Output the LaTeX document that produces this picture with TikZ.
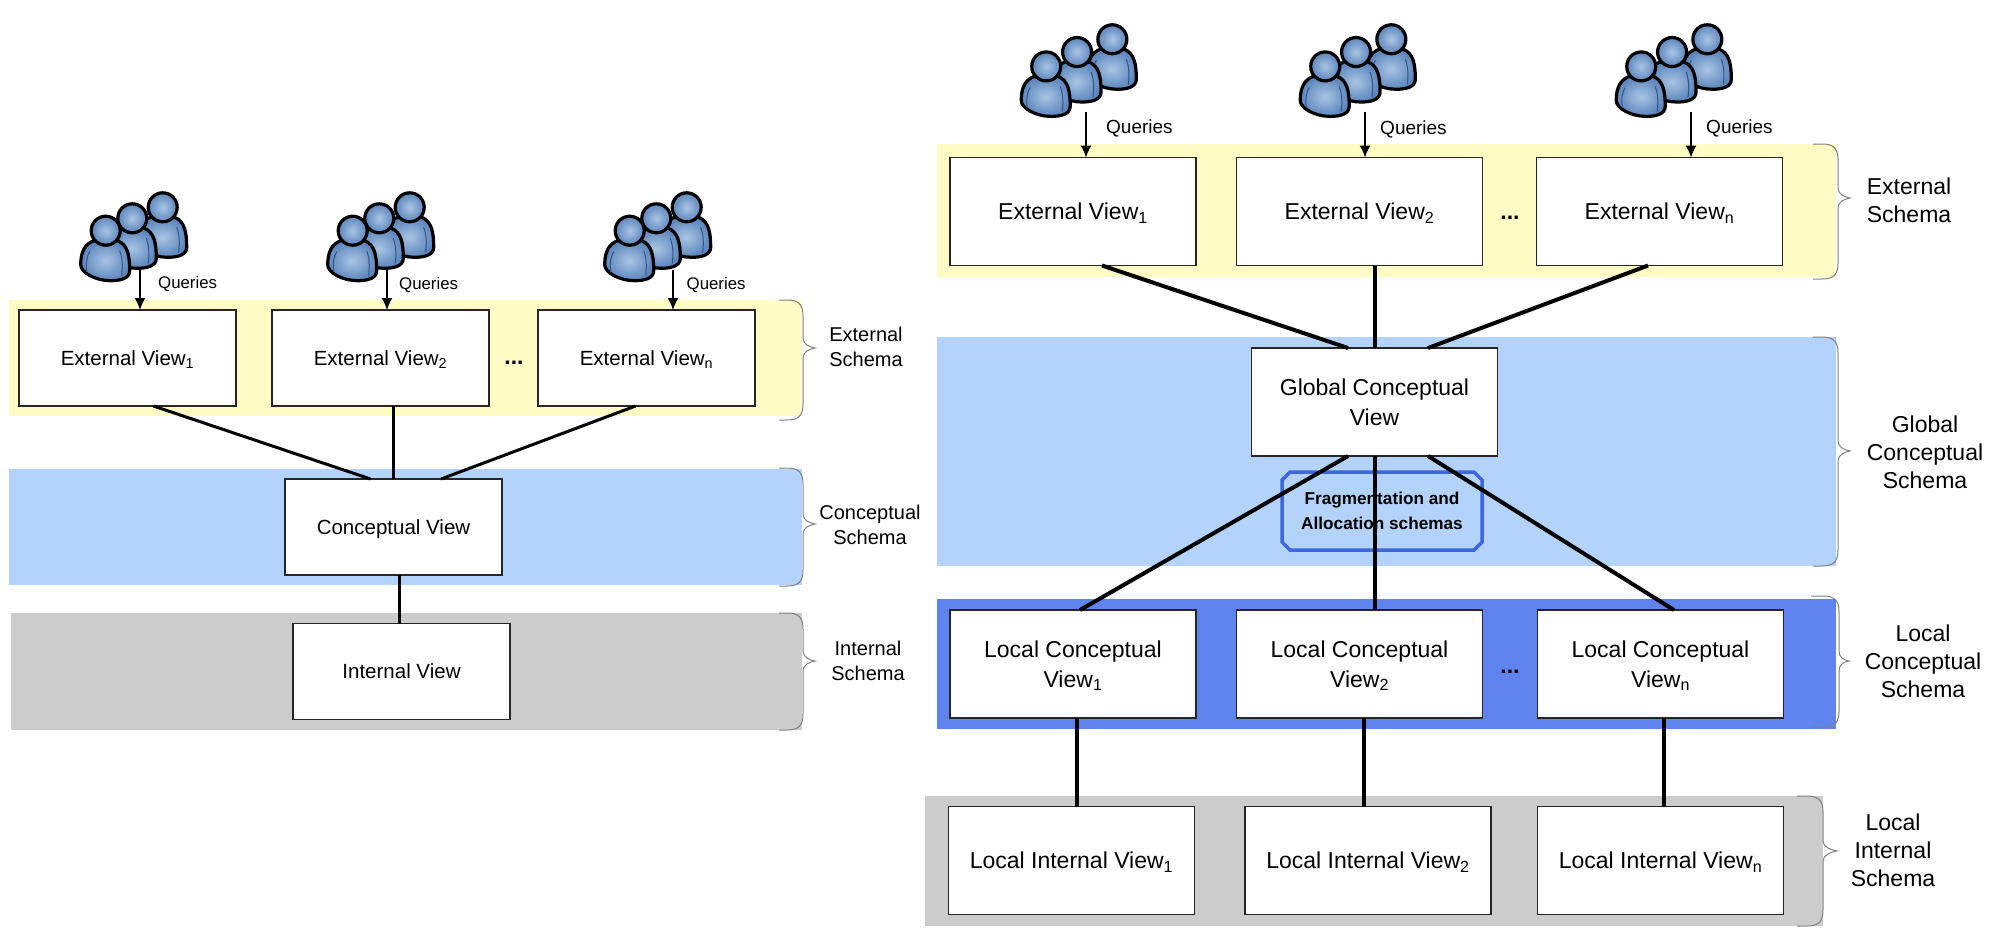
\documentclass[tikz,border=0pt]{standalone}
\usepackage{fontspec}
\setmainfont{Liberation Sans}
\usepackage{xcolor}
\definecolor{bandyellow}{HTML}{FFFBC4}
\definecolor{bandblue}{HTML}{B3D3FA}
\definecolor{banddeep}{HTML}{5F84F0}
\definecolor{bandgray}{HTML}{CCCCCC}
\definecolor{fragblue}{HTML}{3D66E0}
\definecolor{bracegray}{HTML}{808080}
\definecolor{userlight}{HTML}{A9C4E4}
\definecolor{userdark}{HTML}{5C86BC}
\definecolor{userline}{HTML}{2F5488}
\usepackage{tikz}
\usetikzlibrary{arrows.meta,positioning,shapes.misc}
\newcommand{\schemabrace}[6]{% hook x, spine x, tip x, top y, tip y, bottom y
  \draw[bracegray,line width=1pt] (#1,#4) -- (#2-16,#4) .. controls (#2-4,#4) and (#2,#4+5) .. (#2,#4+16)
    -- (#2,#5-10) .. controls (#2,#5-4) and (#3-6,#5-1) .. (#3,#5)
    .. controls (#3-6,#5+1) and (#2,#5+4) .. (#2,#5+10)
    -- (#2,#6-16) .. controls (#2,#6-5) and (#2-4,#6) .. (#2-16,#6) -- (#1,#6);}

\begin{document}
\begin{tikzpicture}[
  x=1pt,y=-1pt,
  leftbox/.style={draw=black!85,line width=1.5pt,fill=white,outer sep=0pt,inner sep=2pt,align=center,minimum width=217pt,minimum height=96pt,text depth=0pt,font=\fontsize{20.5}{26}\selectfont},
  rightbox/.style={draw=black!85,line width=1.5pt,fill=white,outer sep=0pt,inner sep=2pt,align=center,minimum width=246pt,minimum height=108pt,text depth=0pt,font=\fontsize{23}{29.5}\selectfont},
  link/.style={draw=black,line width=3pt},
  biglink/.style={draw=black,line width=4pt},
  query/.style={-{Latex[length=12pt,width=11pt]},draw=black,line width=1.5pt},
  querytext/.style={anchor=west,inner sep=0pt,font=\fontsize{16.8}{20}\selectfont},
  bigquerytext/.style={anchor=west,inner sep=0pt,font=\fontsize{19}{23}\selectfont},
  schema/.style={align=center,inner sep=0pt,font=\fontsize{20}{25}\selectfont},
  bigschema/.style={align=center,inner sep=0pt,font=\fontsize{23}{28}\selectfont},
  dots/.style={inner sep=0pt,font=\bfseries\fontsize{23}{23}\selectfont},
  frag/.style={chamfered rectangle,chamfered rectangle xsep=4pt,chamfered rectangle ysep=4pt,draw=fragblue,line width=3.5pt,minimum width=200pt,minimum height=78pt,inner sep=0pt,align=center,font=\bfseries\fontsize{17.2}{25}\selectfont},
  person/.pic={
    \draw[black,line width=3.2pt,inner color=userlight,outer color=userdark,line join=round]
      (-12,10) .. controls (-20,13) and (-25,20) .. (-25,34) .. controls (-25,42) and (-10,50) .. (5,50)
      .. controls (14,50) and (24,48) .. (24,40) .. controls (24,25) and (22,14) .. (12,10) -- cycle;
    \draw[userline,line width=1pt] (-19,41) .. controls (-20,32) and (-19,26) .. (-16,21);
    \draw[userline,line width=1pt] (16,45) .. controls (17,36) and (17,28) .. (14,20);
    \draw[black,line width=3.2pt,inner color=userlight,outer color=userdark] (0,0) circle (14.5);
  },
  usergroup/.pic={
    \pic at (22.7,-62.7) {person};
    \pic at (-7.7,-51.7) {person};
    \pic at (-34.3,-39.3) {person};
  }
]
\useasboundingbox (0,0) rectangle (2004,930);
\fill[white] (0,0) rectangle (2004,930);
% bands of the left picture
\fill[bandyellow] (9,300) rectangle (802,416);
\fill[bandblue] (9,469) rectangle (802,585);
\fill[bandgray] (11,613) rectangle (802,730);
% bands of the right picture
\fill[bandyellow] (937,144) rectangle (1836,277);
\fill[bandblue] (937,337) rectangle (1836,566);
\fill[banddeep] (937,599) rectangle (1836,729);
\fill[bandgray] (925,796) rectangle (1823,926);
% braces
\schemabrace{779}{803}{815}{300}{348}{420}
\schemabrace{779}{803}{815}{468}{524}{586}
\schemabrace{779}{803}{815}{613}{661}{730}
\schemabrace{1813}{1838}{1850}{144}{198}{279}
\schemabrace{1813}{1838}{1850}{337}{451}{566}
\schemabrace{1811}{1839}{1849}{596}{661}{727}
\schemabrace{1797}{1823}{1837}{796}{851}{926}
% left views
\node[leftbox] (extview1) at (127.5,358) {External View\textsubscript{1}};
\node[leftbox,right=36pt of extview1] (extview2) {External View\textsubscript{2}};
\node[leftbox,right=49pt of extview2] (extviewn) {External View\textsubscript{n}};
\node[leftbox] (concept) at (393.5,527) {Conceptual View};
\node[leftbox] (internal) at (401.5,671.5) {Internal View};
\node[dots] (extdots) at (514,363) {...};
% right views
\node[rightbox] (rextview1) at (1073,211.5) {External View\textsubscript{1}};
\node[rightbox,right=40.5pt of rextview1] (rextview2) {External View\textsubscript{2}};
\node[rightbox,right=54pt of rextview2] (rextviewn) {External View\textsubscript{n}};
\node[rightbox] (global) at (1374.5,402) {Global Conceptual\\View};
\node[rightbox] (lconcept1) at (1073,664) {Local Conceptual\\View\textsubscript{1}};
\node[rightbox] (lconcept2) at (1359.5,664) {Local Conceptual\\View\textsubscript{2}};
\node[rightbox] (lconceptn) at (1660.5,664) {Local Conceptual\\View\textsubscript{n}};
\node[rightbox] (linternal1) at (1071.5,860.5) {Local Internal View\textsubscript{1}};
\node[rightbox] (linternal2) at (1368,860.5) {Local Internal View\textsubscript{2}};
\node[rightbox] (linternaln) at (1660.5,860.5) {Local Internal View\textsubscript{n}};
\node[dots] (rextdots) at (1510,218) {...};
\node[dots] (lconceptdots) at (1510,672) {...};
\node[frag] (fragbox) at (1382,511) {Fragmentation and\\Allocation schemas};
% schema labels
\node[schema] (extschema) at (866,347) {External\\Schema};
\node[schema] (conceptschema) at (870,525) {Conceptual\\Schema};
\node[schema] (internalschema) at (868,661) {Internal\\Schema};
\node[bigschema] (rextschema) at (1909,200) {External\\Schema};
\node[bigschema] (globalschema) at (1925,452) {Global\\Conceptual\\Schema};
\node[bigschema] (lconceptschema) at (1923,661) {Local\\Conceptual\\Schema};
\node[bigschema] (linternalschema) at (1893,850) {Local\\Internal\\Schema};
% users
\coordinate (users1) at (140,270);
\coordinate (users2) at (387,270);
\coordinate (users3) at (673,270);
\coordinate (rusers1) at (1086,112);
\coordinate (rusers2) at (1365,112);
\coordinate (rusers3) at (1691,112);
\draw[query] (users1) -- (users1 |- extview1.north);
\draw[query] (users2) -- (users2 |- extview2.north);
\draw[query] (users3) -- (users3 |- extviewn.north);
\draw[query] (rusers1) -- (rusers1 |- rextview1.north);
\draw[query] (rusers2) -- (rusers2 |- rextview2.north);
\draw[query] (rusers3) -- (rusers3 |- rextviewn.north);
\pic at (users1) {usergroup};
\pic at (users2) {usergroup};
\pic[xshift=-9pt] at (users3) {usergroup};
\pic[scale=1.16] at (rusers1) {usergroup};
\pic[scale=1.16] at (rusers2) {usergroup};
\pic[xshift=-10pt,scale=1.16] at (rusers3) {usergroup};
\node[querytext] (query1) at (158,284) {Queries};
\node[querytext] (query2) at (399,285) {Queries};
\node[querytext] (query3) at (686.5,285) {Queries};
\node[bigquerytext] (rquery1) at (1106,128) {Queries};
\node[bigquerytext] (rquery2) at (1380,129) {Queries};
\node[bigquerytext] (rquery3) at (1706,128.5) {Queries};
% connectors
\draw[link] ([xshift=26pt]extview1.south) -- ([xshift=-23pt]concept.north);
\draw[link] (extview2.south -| concept.north) -- (concept.north);
\draw[link] ([xshift=-11pt]extviewn.south) -- ([xshift=47.5pt]concept.north);
\draw[link] ([xshift=5.5pt]concept.south) -- ([xshift=-2.5pt]internal.north);
\draw[biglink] ([xshift=29pt]rextview1.south) -- ([xshift=-26.5pt]global.north);
\draw[biglink] (rextview2.south -| global.north) -- (global.north);
\draw[biglink] ([xshift=-11.5pt]rextviewn.south) -- ([xshift=53.5pt]global.north);
\draw[biglink] ([xshift=-26.5pt]global.south) -- ([xshift=7pt]lconcept1.north);
\draw[biglink] (global.south) -- (global.south |- lconcept2.north);
\draw[biglink] ([xshift=53.5pt]global.south) -- ([xshift=13.5pt]lconceptn.north);
\draw[biglink] ([xshift=4pt]lconcept1.south) -- ([xshift=5.5pt]linternal1.north);
\draw[biglink] ([xshift=4.5pt]lconcept2.south) -- ([xshift=-4pt]linternal2.north);
\draw[biglink] ([xshift=3.5pt]lconceptn.south) -- ([xshift=3.5pt]linternaln.north);
\end{tikzpicture}
\end{document}
